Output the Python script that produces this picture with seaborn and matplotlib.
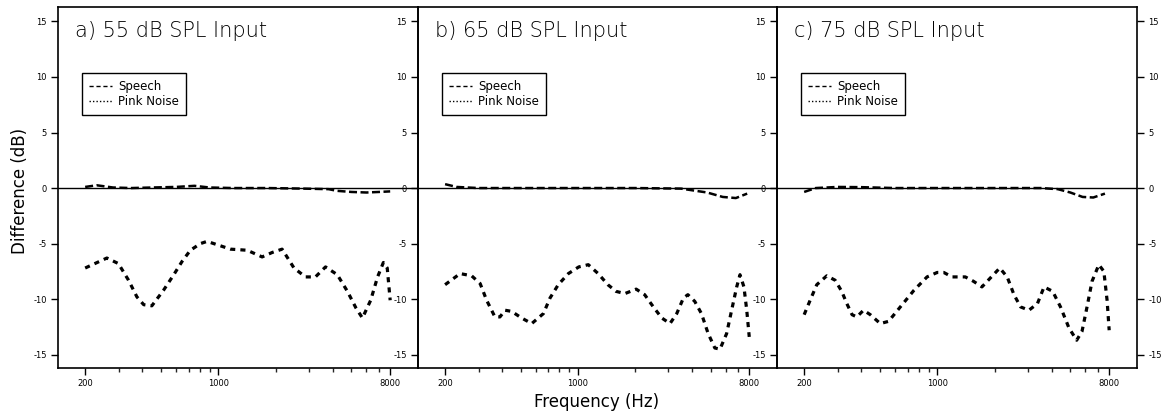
import numpy as np
import pandas as pd
import matplotlib
matplotlib.use("Agg")
import matplotlib.pyplot as plt
from matplotlib.lines import Line2D
from matplotlib.ticker import FixedLocator, NullFormatter
import seaborn as sns

# ---- data: level difference (dB) vs frequency (Hz) ----
panel_titles = ["a) 55 dB SPL Input", "b) 65 dB SPL Input", "c) 75 dB SPL Input"]

speech_freq_a = [200, 230, 280, 350, 450, 600, 750, 900, 1200, 1800, 2800, 3800, 4200, 5000, 6000, 7000, 8000]
speech_diff_a = [0.1, 0.25, 0.05, 0.0, 0.05, 0.1, 0.2, 0.05, 0.0, 0.0, -0.05, -0.1, -0.25, -0.35, -0.4, -0.35, -0.3]

speech_freq_b = [200, 230, 300, 500, 1000, 2000, 3500, 4000, 4800, 5800, 6800, 7800]
speech_diff_b = [0.35, 0.1, 0.0, 0.0, 0.0, 0.0, -0.05, -0.2, -0.4, -0.8, -0.9, -0.5]

speech_freq_c = [200, 230, 300, 400, 600, 1000, 2000, 3500, 4300, 5000, 5800, 6600, 7600]
speech_diff_c = [-0.35, 0.0, 0.1, 0.08, 0.0, 0.0, 0.0, 0.0, -0.1, -0.4, -0.8, -0.85, -0.5]

pink_freq_a = [200, 260, 299, 338, 374, 406, 448, 516, 584, 646, 714, 806, 874, 986,
               1160, 1420, 1700, 1920, 2165, 2500, 2870, 3240, 3660, 4220, 4770, 5290,
               5720, 6320, 6870, 7370, 7720, 8000]
pink_diff_a = [-7.2, -6.3, -6.8, -8.3, -9.8, -10.5, -10.6, -9.2, -7.8, -6.6, -5.6, -5.0, -4.8, -5.1,
               -5.5, -5.6, -6.2, -5.8, -5.5, -7.2, -8.0, -8.0, -7.1, -7.8, -9.3, -10.8,
               -11.7, -10.1, -8.0, -6.7, -7.2, -10.1]

pink_freq_b = [200, 240, 276, 306, 331, 366, 389, 414, 448, 506, 572, 659, 714, 789, 892,
               1012, 1136, 1280, 1440, 1590, 1770, 2030, 2250, 2500, 2770, 3060, 3320,
               3600, 3800, 4130, 4480, 4860, 5270, 5610, 6080, 6460, 6870, 7150, 7500,
               7760, 8000]
pink_diff_b = [-8.7, -7.7, -7.9, -8.6, -10.1, -11.6, -11.6, -11.0, -11.1, -11.7, -12.2, -11.3, -9.9, -8.7, -7.7,
               -7.1, -6.9, -7.7, -8.7, -9.3, -9.5, -9.1, -9.6, -10.7, -11.7, -12.2, -11.3,
               -9.9, -9.6, -10.2, -11.3, -13.1, -14.4, -14.5, -13.1, -11.0, -8.9, -7.8, -8.9,
               -11.0, -13.4]

pink_freq_c = [200, 215, 233, 263, 291, 315, 335, 357, 378, 410, 445, 502, 555, 640, 755,
               884, 999, 1082, 1197, 1404, 1552, 1717, 1900, 2130, 2330, 2530, 2740,
               3030, 3360, 3640, 4040, 4440, 4920, 5400, 5760, 6120, 6500, 7060, 7500,
               7800, 8000]
pink_diff_c = [-11.4, -10.1, -8.7, -7.9, -8.3, -9.3, -10.4, -11.4, -11.6, -11.0, -11.4, -12.2, -12.0, -10.7, -9.2,
               -8.0, -7.6, -7.6, -8.0, -8.0, -8.4, -8.9, -8.1, -7.2, -8.0, -9.6, -10.7,
               -11.0, -10.4, -8.9, -9.3, -10.7, -12.6, -13.7, -12.9, -10.7, -8.4, -6.9, -7.5,
               -10.1, -12.8]

speech = [(speech_freq_a, speech_diff_a), (speech_freq_b, speech_diff_b), (speech_freq_c, speech_diff_c)]
pink = [(pink_freq_a, pink_diff_a), (pink_freq_b, pink_diff_b), (pink_freq_c, pink_diff_c)]

x_major = [200, 1000, 8000]
x_minor = [300, 400, 500, 600, 700, 800, 900, 2000, 3000, 4000, 5000, 6000, 7000]
y_ticks = [-15, -10, -5, 0, 5, 10, 15]

# ---- style ----
sns.set_theme(style="white")
plt.rcParams["font.family"] = ["DejaVu Sans"]
plt.rcParams["text.color"] = "black"
plt.rcParams["axes.edgecolor"] = "black"
plt.rcParams["axes.linewidth"] = 1.2

fig = plt.figure(figsize=(11.7, 4.17), dpi=100)
left, bottom, height = 58 / 1170, 1 - 368 / 417, 361 / 417
widths = [360 / 1170, 359 / 1170, 360 / 1170]
lefts = [left, left + widths[0], left + widths[0] + widths[1]]

speech_dash = (3.2, 1.4)
pink_dash = (1.6, 1.6)

for i in range(3):
    ax = fig.add_axes([lefts[i], bottom, widths[i], height])
    ax.set_facecolor("none")

    sf, sd = speech[i]
    pf, pd_ = pink[i]
    sns.lineplot(x=sf, y=sd, ax=ax, color="black", linewidth=1.8, dashes=False,
                 estimator=None, sort=False)
    ax.lines[-1].set_dashes(speech_dash)
    sns.lineplot(x=pf, y=pd_, ax=ax, color="black", linewidth=2.3, dashes=False,
                 estimator=None, sort=False)
    ax.lines[-1].set_dashes(pink_dash)

    ax.axhline(0, color="black", linewidth=1.0, zorder=1)

    ax.set_xscale("log")
    ax.set_xlim(144, 11200)
    ax.set_ylim(-16.2, 16.3)
    ax.xaxis.set_major_locator(FixedLocator(x_major))
    ax.xaxis.set_minor_locator(FixedLocator(x_minor))
    ax.xaxis.set_minor_formatter(NullFormatter())
    ax.set_xticklabels([str(v) for v in x_major])
    ax.set_yticks(y_ticks)
    ax.set_yticklabels([str(v) for v in y_ticks])
    ax.set_xlabel("")
    ax.set_ylabel("")

    ax.tick_params(axis="both", which="major", direction="out", length=5, width=1,
                   labelsize=6, pad=3, colors="black", bottom=True, left=True)
    ax.tick_params(axis="x", which="minor", direction="out", length=3, width=1, bottom=True)
    if i == 2:
        ax.tick_params(axis="y", which="major", right=True, labelright=True)

    for s in ax.spines.values():
        s.set_color("black")
        s.set_linewidth(1.2)

    ax.text(0.047, 0.933, panel_titles[i], transform=ax.transAxes, fontsize=15,
            fontweight="light", ha="left", va="center", color="black")

    handles = [Line2D([], [], color="black", linewidth=1.0, dashes=(3, 2)),
               Line2D([], [], color="black", linewidth=1.0, dashes=(1, 1.5))]
    leg = ax.legend(handles, ["Speech", "Pink Noise"], loc="upper left",
                    bbox_to_anchor=(0.066, 0.817), borderaxespad=0, fontsize=8.5,
                    frameon=True, fancybox=False, edgecolor="black", framealpha=1,
                    handlelength=2.0, handletextpad=0.5, labelspacing=0.15,
                    borderpad=0.6)
    leg.get_frame().set_linewidth(1.0)
    for t in leg.get_texts():
        t.set_color("black")

fig.text(0.017, 0.542, "Difference (dB)", rotation=90, ha="center", va="center",
         fontsize=12, color="black")
fig.text(0.51, 0.036, "Frequency (Hz)", ha="center", va="center", fontsize=12, color="black")

fig.savefig("out.png", dpi=100, facecolor="white")
